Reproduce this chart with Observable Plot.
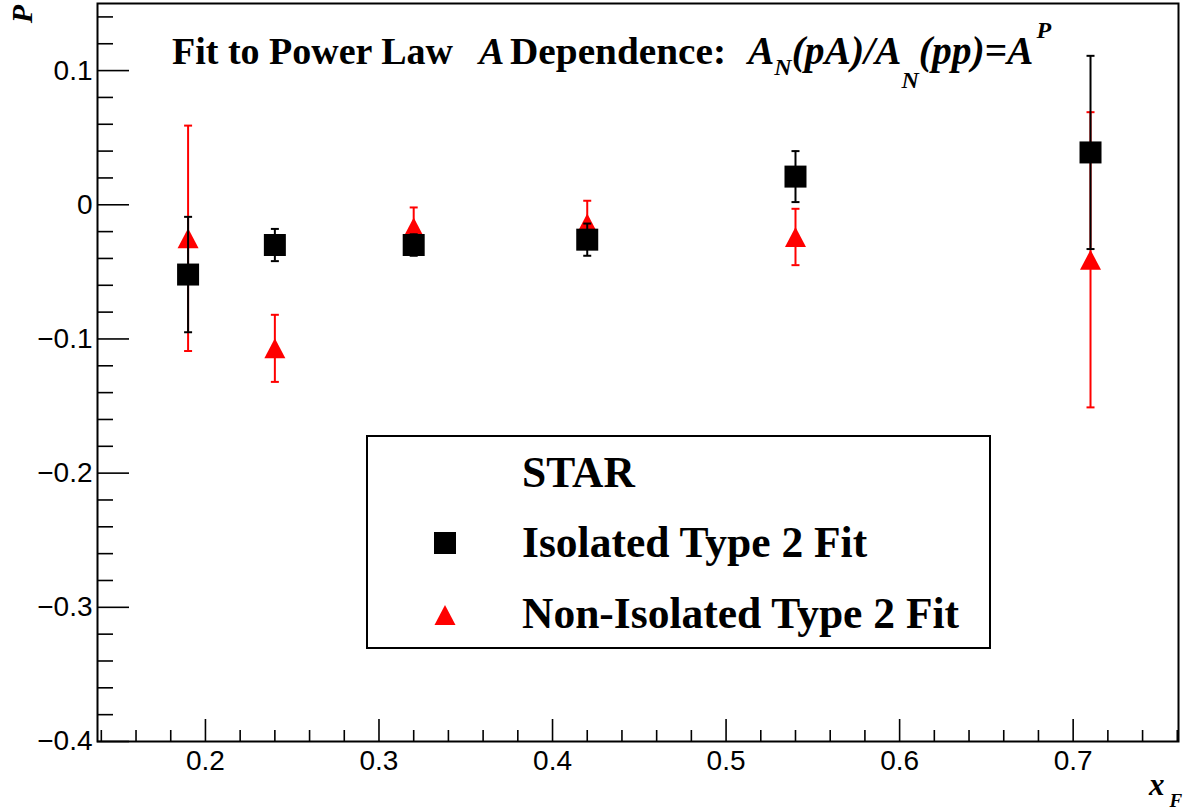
<!DOCTYPE html>
<html><head><meta charset="utf-8">
<script src="https://cdn.jsdelivr.net/npm/d3@7"></script>
<script src="https://cdn.jsdelivr.net/npm/@observablehq/plot@0.6"></script>
<style>html,body{margin:0;padding:0;background:#fff;overflow:hidden}</style>
</head><body><div id="chart"></div>
<script>
// ---- data ----
const xF        = [0.19, 0.24, 0.32, 0.42, 0.54, 0.71];
const isoP      = [-0.052, -0.030, -0.030, -0.026, 0.021, 0.039];
const isoErr    = [0.043, 0.012, 0.008, 0.012, 0.019, 0.072];
const nonIsoP   = [-0.025, -0.107, -0.017, -0.014, -0.024, -0.041];
const nonIsoErr = [0.084, 0.025, 0.015, 0.017, 0.021, 0.110];
const yMajor = [-0.4, -0.3, -0.2, -0.1, 0, 0.1];
const xMajor = [0.2, 0.3, 0.4, 0.5, 0.6, 0.7];
const yMinor = [-0.38,-0.36,-0.34,-0.32,-0.28,-0.26,-0.24,-0.22,-0.18,-0.16,-0.14,-0.12,-0.08,-0.06,-0.04,-0.02,0.02,0.04,0.06,0.08,0.12,0.14];
const xMinor = [0.14,0.16,0.18,0.22,0.24,0.26,0.28,0.32,0.34,0.36,0.38,0.42,0.44,0.46,0.48,0.52,0.54,0.56,0.58,0.62,0.64,0.66,0.68,0.72,0.74,0.76];
const seriesNames = ["Isolated Type 2 Fit", "Non-Isolated Type 2 Fit"];
const seriesColors = ["#000000", "#ff0000"];

const iso = xF.map((x, i) => ({x, y: isoP[i], lo: isoP[i] - isoErr[i], hi: isoP[i] + isoErr[i]}));
const non = xF.map((x, i) => ({x, y: nonIsoP[i], lo: nonIsoP[i] - nonIsoErr[i], hi: nonIsoP[i] + nonIsoErr[i]}));

const W = 1183, H = 811;
const mL = 97, mR = 5, mT = 3, mB = 70;
const pw = W - mL - mR, ph = H - mT - mB;

const sq = {draw(c) { c.rect(-11, -11, 22, 22); }};
const tri = {draw(c) { c.moveTo(0, -10); c.lineTo(10.5, 10); c.lineTo(-10.5, 10); c.closePath(); }};
const cap = {draw(c) { c.moveTo(-4, 0); c.lineTo(4, 0); }};

function errMarks(data, color, symbol) {
  return [
    Plot.ruleX(data, {x: "x", y1: "lo", y2: "hi", stroke: color, strokeWidth: 2}),
    Plot.dot(data, {x: "x", y: "lo", symbol: cap, fill: "none", stroke: color, strokeWidth: 2, r: 4}),
    Plot.dot(data, {x: "x", y: "hi", symbol: cap, fill: "none", stroke: color, strokeWidth: 2, r: 4}),
    Plot.dot(data, {x: "x", y: "y", symbol, fill: color, stroke: "none", r: 10})
  ];
}

const fmt = d => d === 0 ? "0" : d3.format(".1f")(d);

const chart = Plot.plot({
  width: W, height: H,
  marginLeft: mL, marginRight: mR, marginTop: mT, marginBottom: mB,
  style: {fontFamily: "'Liberation Sans', Arial, sans-serif", fontSize: "28px", background: "#fff", overflow: "visible"},
  x: {domain: [0.1378, 0.7607]},
  y: {domain: [-0.4, 0.15]},
  marks: [
    Plot.ruleY(yMinor, {insetRight: pw - 16, stroke: "#000", strokeWidth: 1.6}),
    Plot.ruleY(yMajor, {insetRight: pw - 32, stroke: "#000", strokeWidth: 1.6}),
    Plot.ruleX(xMinor, {insetTop: ph - 11, stroke: "#000", strokeWidth: 1.6}),
    Plot.ruleX(xMajor, {insetTop: ph - 22, stroke: "#000", strokeWidth: 1.6}),
    Plot.axisY(yMajor, {tickSize: 0, tickPadding: 5, tickFormat: fmt, label: null, fontSize: 28}),
    Plot.axisX(xMajor, {tickSize: 0, tickPadding: 9, tickFormat: fmt, label: null, fontSize: 28}),
    ...errMarks(non, seriesColors[1], tri),
    ...errMarks(iso, seriesColors[0], sq),
    Plot.frame({stroke: "#000", strokeWidth: 2})
  ]
});

const svg = d3.select(chart);
svg.selectAll('g[aria-label="y-axis tick label"], g[aria-label="x-axis tick label"]').attr("font-size", 28)
  .selectAll("text").attr("font-size", 28);
const serif = "'Liberation Serif', 'Times New Roman', serif";

// title
const t = svg.append("text").attr("font-family", serif).attr("font-weight", "bold")
  .attr("text-anchor", "start").attr("font-size", 38).attr("y", 64).attr("fill", "#000");
t.append("tspan").attr("x", 172).text("Fit to Power Law");
t.append("tspan").attr("x", 479).attr("font-style", "italic").text("A");
t.append("tspan").attr("x", 510).attr("textLength", 216).attr("lengthAdjust", "spacingAndGlyphs").text("Dependence:");
t.append("tspan").attr("x", 748).attr("font-style", "italic").attr("font-size", 39.5).text("A");
t.append("tspan").attr("font-style", "italic").attr("font-size", 24).attr("dy", 11).text("N");
t.append("tspan").attr("font-style", "italic").attr("font-size", 39.5).attr("dy", -11).text("(pA)/A");
t.append("tspan").attr("font-style", "italic").attr("font-size", 24).attr("dy", 24).text("N");
t.append("tspan").attr("font-style", "italic").attr("font-size", 39.5).attr("dy", -24).text("(pp)=A");
t.append("tspan").attr("font-style", "italic").attr("font-size", 24).attr("dy", -26).attr("dx", 3).text("P");

// axis titles
svg.append("text").attr("font-family", serif).attr("font-weight", "bold").attr("font-style", "italic")
  .attr("font-size", 30).attr("text-anchor", "end")
  .attr("transform", "translate(32,5) rotate(-90)").text("P");
const xl = svg.append("text").attr("font-family", serif).attr("font-weight", "bold").attr("font-style", "italic")
  .attr("text-anchor", "start").attr("font-size", 31).attr("x", 1149).attr("y", 795);
xl.append("tspan").text("x");
xl.append("tspan").attr("font-size", 19).attr("dy", 12).attr("dx", 5).text("F");

// legend
const lg = svg.append("g");
lg.append("rect").attr("x", 367).attr("y", 436).attr("width", 623).attr("height", 212)
  .attr("fill", "#fff").attr("stroke", "#000").attr("stroke-width", 2);
const lt = (y, s) => lg.append("text").attr("font-family", serif).attr("font-weight", "bold")
  .attr("text-anchor", "start").attr("font-size", 43.5).attr("x", 522).attr("y", y).attr("fill", "#000").text(s);
lt(487, "STAR");
lt(557, seriesNames[0]);
lt(628, seriesNames[1]);
lg.append("path").attr("transform", "translate(445,543)").attr("d", d3.symbol(sq)()).attr("fill", seriesColors[0]);
lg.append("path").attr("transform", "translate(445,615)").attr("d", d3.symbol(tri)()).attr("fill", seriesColors[1]);

document.getElementById("chart").appendChild(chart);
</script>
</body></html>
